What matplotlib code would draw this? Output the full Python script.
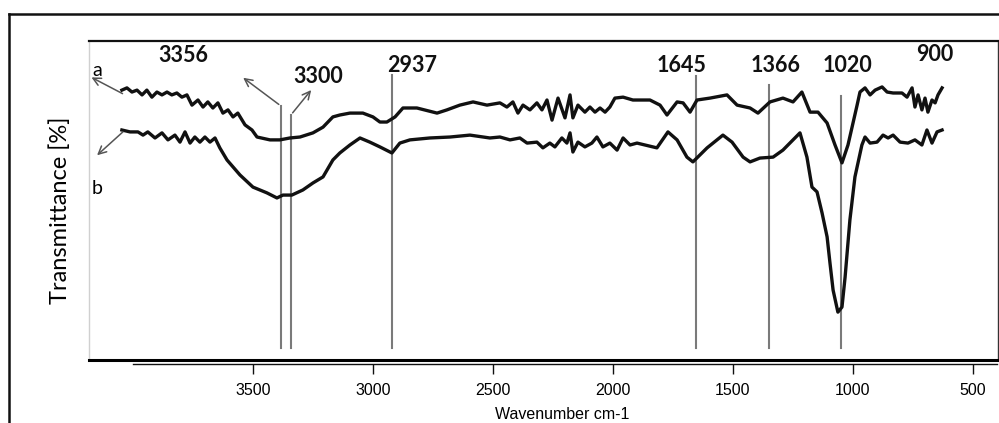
import matplotlib
matplotlib.use('Agg')
import matplotlib.pyplot as plt
from matplotlib.lines import Line2D

# ---- data ----
wn_a = [4046, 4025, 4004, 3983, 3962, 3942, 3921, 3900, 3879, 3858, 3838, 3817, 3796, 3775,
        3754, 3729, 3708, 3688, 3667, 3646, 3625, 3604, 3583, 3563, 3533, 3504, 3483,
        3429, 3388, 3346, 3304, 3250, 3208, 3167, 3138, 3096, 3042, 3000, 2971, 2942, 2908,
        2875, 2817, 2733, 2692, 2638, 2583, 2525,
        2471, 2442, 2417, 2396, 2375, 2346, 2317, 2296, 2275, 2254, 2229, 2200, 2179, 2167,
        2146, 2117, 2096, 2075, 2054, 2033, 2013, 1992, 1958, 1917,
        1846, 1804, 1775, 1733, 1708, 1679, 1650, 1596, 1525, 1483, 1429, 1396, 1346, 1292,
        1250, 1213, 1179, 1146, 1108, 1075, 1046, 1021, 983,
        971, 950, 929, 908, 879, 858, 833, 796, 775, 754, 742, 729, 713, 700, 688, 671, 658,
        646, 629]
tr_a = [84.6, 85.3, 84.0, 84.6, 83.1, 84.6, 82.4, 84.0, 83.1, 84.0, 83.1, 83.7, 82.4, 83.1,
        79.9, 81.5, 79.3, 80.9, 79.0, 80.6, 77.4, 78.4, 76.2, 77.4, 73.7, 72.1, 69.9,
        69.0, 69.0, 69.6, 69.9, 71.2, 73.0, 76.2, 76.8, 77.4, 77.4, 76.2, 74.6, 74.6, 76.2,
        79.0, 79.0, 77.4, 78.4, 79.9, 80.9, 79.9,
        80.6, 79.3, 80.9, 77.4, 79.9, 78.4, 80.6, 78.4, 81.5, 75.2, 82.1, 75.9, 83.1, 75.9,
        79.9, 77.7, 79.3, 77.7, 79.0, 77.7, 79.3, 82.1, 82.4, 81.5,
        81.5, 79.9, 76.8, 80.9, 80.6, 77.7, 81.5, 82.1, 83.1, 79.9, 79.0, 77.4, 80.9, 82.1,
        80.9, 84.0, 77.7, 77.7, 74.3, 67.4, 61.8, 67.4, 79.9,
        84.0, 85.3, 83.1, 84.6, 85.6, 84.0, 83.7, 83.7, 82.4, 85.3, 79.3, 83.1, 78.4, 82.1,
        77.7, 81.5, 80.6, 83.1, 85.3]

wn_b = [4046, 4012, 3979, 3958, 3938, 3908, 3879, 3854, 3825, 3804, 3783, 3762, 3742, 3721,
        3700, 3679, 3658, 3638, 3608, 3554,
        3500, 3442, 3400, 3375, 3338, 3292, 3250, 3208, 3167, 3138, 3096, 3054, 3013, 2971,
        2921, 2888, 2846, 2763, 2679, 2596, 2513,
        2471, 2429, 2388, 2358, 2317, 2292, 2263, 2242, 2213, 2192, 2179, 2167, 2146, 2117,
        2088, 2067, 2042, 2013, 1983, 1958, 1929, 1900,
        1817, 1771, 1733, 1692, 1667, 1608,
        1542, 1504, 1458, 1429, 1388, 1333, 1292, 1250, 1221, 1192, 1171, 1150, 1129, 1108,
        1096, 1083, 1063, 1046, 1033, 1013, 992,
        963, 950, 929, 900, 875, 854, 833, 804, 771, 742, 713, 692, 671, 650, 629]
tr_b = [72.1, 71.5, 71.5, 70.5, 71.5, 69.6, 71.2, 69.0, 70.5, 68.3, 71.5, 68.0, 69.9, 68.3,
        69.9, 68.3, 69.6, 66.5, 62.7, 58.0,
        54.2, 52.4, 50.8, 51.7, 51.7, 53.3, 55.5, 57.4, 62.7, 64.9, 67.4, 69.6, 68.3, 66.8,
        64.9, 68.0, 69.0, 69.6, 69.9, 70.5, 69.6,
        69.9, 69.0, 69.6, 68.0, 68.3, 66.5, 68.0, 66.8, 69.6, 68.0, 71.2, 65.2, 68.3, 66.8,
        68.0, 69.9, 66.8, 68.0, 65.8, 69.6, 67.4, 68.0,
        66.5, 71.5, 69.0, 63.6, 62.1, 66.5,
        70.5, 68.3, 63.6, 62.1, 63.3, 63.6, 65.8, 69.0, 71.2, 63.6, 54.2, 52.7, 46.1, 38.6,
        30.4, 21.9, 15.0, 16.6, 26.0, 43.9, 57.4,
        67.4, 69.9, 68.0, 68.3, 70.5, 69.6, 70.5, 68.3, 68.0, 69.0, 67.4, 72.1, 68.0, 71.5,
        72.1]

peak_labels = ["3356", "3300", "2937", "1645", "1366", "1020", "900"]
peak_line_wn = [3383, 3342, 2921, 1654, 1350, 1050]
peak_line_top = [79.6, 76.8, 89.3, 89.0, 86.2, 82.8]
xtick_values = [3500, 3000, 2500, 2000, 1500, 1000, 500]
series_labels = ["a", "b"]

# ---- figure ----
W, H = 999, 423
fig = plt.figure(figsize=(W / 100, H / 100), dpi=100)
fig.patch.set_facecolor('white')


def px(x0, y0, x1, y1):
    return [x0 / W, 1 - y1 / H, (x1 - x0) / W, (y1 - y0) / H]


ax = fig.add_axes(px(89, 41, 998, 360))
ax.set_xlim(4183, 396)
ax.set_ylim(0, 100)
ax.set_xticks([])
ax.set_yticks([])
ax.spines['top'].set_linewidth(1.6)
ax.spines['top'].set_color('#111111')
ax.spines['right'].set_linewidth(1.0)
ax.spines['right'].set_color('#333333')
ax.spines['left'].set_linewidth(1.0)
ax.spines['left'].set_color('#d0d0d0')
ax.spines['bottom'].set_linewidth(2.2)
ax.spines['bottom'].set_color('#000000')

# peak marker lines
for w, top in zip(peak_line_wn, peak_line_top):
    ax.plot([w, w], [top, 3.8], color='#7a7a7a', lw=1.5, zorder=1)

# spectra
ax.plot(wn_a, tr_a, color='#111111', lw=2.4, solid_joinstyle='round', zorder=3)
ax.plot(wn_b, tr_b, color='#111111', lw=2.4, solid_joinstyle='round', zorder=3)

# peak labels
label_pos = [(3788, 95.6), (3229, 89.0), (2837, 92.2), (1713, 92.2),
             (1321, 92.2), (1021, 92.2), (658, 95.9)]
for txt, (lx, ly) in zip(peak_labels, label_pos):
    ax.text(lx, ly, txt, ha='center', va='center', fontsize=15.5,
            fontweight='bold', family='Lato', color='#111111')

# arrows
arrow_kw = dict(arrowstyle='->', color='#555555', lw=1.1, mutation_scale=14)
ax.annotate('', xy=(4183, 89.0), xytext=(4033, 83.1), arrowprops=arrow_kw, annotation_clip=False)
ax.annotate('', xy=(4158, 63.6), xytext=(4033, 72.1), arrowprops=arrow_kw, annotation_clip=False)
ax.annotate('', xy=(3550, 89.0), xytext=(3383, 79.6), arrowprops=arrow_kw, annotation_clip=False)
ax.annotate('', xy=(3250, 85.3), xytext=(3342, 76.8), arrowprops=arrow_kw, annotation_clip=False)

ax.text(4150, 90.9, series_labels[0], ha='center', va='center', fontsize=14, family='Lato')
ax.text(4150, 53.9, series_labels[1], ha='center', va='center', fontsize=14, family='Lato')

# secondary x axis with ticks
ax2 = fig.add_axes(px(133, 363.0, 997, 363.6))
ax2.patch.set_visible(False)
for s in ['top', 'left', 'right']:
    ax2.spines[s].set_visible(False)
ax2.spines['bottom'].set_linewidth(1.0)
ax2.spines['bottom'].set_color('#111111')
ax2.set_xlim(4000, 400)
ax2.set_yticks([])
ax2.set_xticks(xtick_values)
ax2.set_xticklabels([str(v) for v in xtick_values], family='Liberation Sans')
ax2.tick_params(axis='x', direction='out', length=7, width=1.0, color='#111111',
                labelsize=11.5, pad=7)

fig.text(562 / W, 1 - 414 / H, 'Wavenumber cm-1', ha='center', va='center',
         fontsize=11.5, family='Liberation Sans')
fig.text(60 / W, 1 - 210 / H, 'Transmittance [%]', ha='center', va='center',
         rotation=90, fontsize=17, family='Lato')

# outer frame
fig.add_artist(Line2D([9 / W, 9 / W], [0, 1 - 14 / H], color='#111111', lw=1.8,
                      transform=fig.transFigure))
fig.add_artist(Line2D([9 / W, 1.0], [1 - 14 / H, 1 - 14 / H], color='#111111', lw=1.8,
                      transform=fig.transFigure))

fig.savefig('out.png', dpi=100)
